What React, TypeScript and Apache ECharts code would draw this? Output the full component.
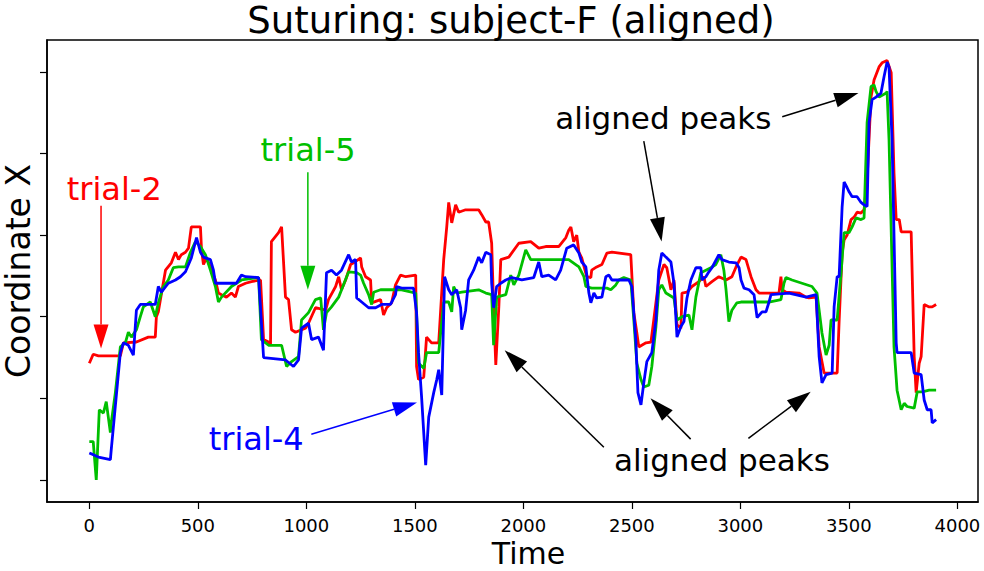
import { useEffect, useRef } from "react";
import * as echarts from "echarts";

// Axis ticks (y ticks carry no labels)
const timeTicks = [0, 500, 1000, 1500, 2000, 2500, 3000, 3500, 4000];
const coordTicks = [0, 1, 2, 3, 4, 5];

// [time, coordinate] samples per trial
const trial2 = [
  [0, 1.43], [18, 1.54], [42, 1.52], [143, 1.52], [157, 1.68], [217, 1.69], [272, 1.75], [304, 1.75], [309, 2.0], [318, 2.06],
  [351, 2.57], [378, 2.66], [397, 2.79], [411, 2.7], [424, 2.76], [443, 2.79], [457, 2.84], [470, 3.1], [512, 3.1], [517, 2.82],
  [526, 2.64], [540, 2.72], [558, 2.61], [581, 2.45], [595, 2.29], [609, 2.27], [632, 2.24], [655, 2.29], [673, 2.24], [687, 2.37],
  [720, 2.41], [747, 2.43], [789, 2.45], [803, 1.72], [826, 1.69], [835, 1.65], [839, 2.92], [872, 3.03], [886, 3.1], [904, 2.24],
  [918, 2.21], [932, 1.84], [950, 1.81], [996, 1.86], [1010, 1.92], [1042, 2.11], [1089, 2.08], [1102, 2.21], [1135, 2.37], [1149, 2.49],
  [1162, 2.33], [1181, 2.45], [1204, 2.64], [1218, 2.66], [1250, 2.72], [1255, 2.61], [1273, 2.49], [1296, 2.45], [1301, 2.17], [1342, 2.21],
  [1356, 2.02], [1370, 2.11], [1393, 2.17], [1411, 2.39], [1434, 2.51], [1458, 2.49], [1504, 2.51], [1508, 1.39], [1517, 1.23], [1541, 1.26],
  [1554, 1.75], [1577, 1.68], [1610, 1.68], [1633, 2.7], [1647, 3.1], [1656, 3.4], [1670, 3.15], [1688, 3.37], [1702, 3.28], [1734, 3.31],
  [1794, 3.31], [1808, 3.25], [1827, 3.16], [1840, 3.16], [1854, 2.9], [1863, 2.12], [1873, 1.41], [1887, 2.12], [1896, 2.7], [1933, 2.73],
  [1979, 2.9], [2034, 2.92], [2071, 2.84], [2103, 2.86], [2163, 2.86], [2196, 2.97], [2209, 3.06], [2219, 3.1], [2232, 2.92], [2246, 3.0],
  [2256, 2.79], [2269, 2.72], [2292, 2.49], [2311, 2.48], [2315, 2.57], [2338, 2.61], [2362, 2.64], [2385, 2.78], [2408, 2.79], [2495, 2.76],
  [2509, 2.05], [2523, 1.8], [2532, 1.63], [2565, 1.68], [2588, 1.69], [2601, 1.96], [2624, 2.45], [2648, 2.64], [2661, 2.6], [2680, 2.33],
  [2694, 2.45], [2708, 1.9], [2726, 1.86], [2731, 2.29], [2754, 2.3], [2777, 2.37], [2809, 2.43], [2832, 2.49], [2841, 2.37], [2869, 2.43],
  [2901, 2.49], [2934, 2.45], [2961, 2.49], [2980, 2.61], [3003, 2.73], [3026, 2.7], [3049, 2.49], [3072, 2.33], [3086, 2.29], [3178, 2.29],
  [3187, 2.49], [3192, 2.33], [3210, 2.3], [3270, 2.29], [3303, 2.24], [3316, 2.23], [3349, 2.24], [3363, 1.63], [3386, 1.31], [3446, 1.31],
  [3455, 1.94], [3469, 2.78], [3478, 2.94], [3492, 3.0], [3510, 3.19], [3524, 3.22], [3538, 3.28], [3556, 3.27], [3570, 3.31], [3584, 3.68],
  [3602, 4.69], [3616, 4.9], [3639, 5.06], [3653, 5.11], [3676, 5.14], [3695, 4.99], [3708, 3.76], [3718, 3.19], [3732, 3.19], [3741, 3.04],
  [3787, 3.04], [3801, 1.51], [3810, 1.07], [3824, 1.43], [3833, 1.51], [3847, 2.15], [3870, 2.12], [3884, 2.12], [3902, 2.15],
];

const trial5 = [
  [0, 0.47], [18, 0.47], [32, 0.0], [46, 0.86], [65, 0.82], [78, 0.96], [97, 0.58], [101, 0.7], [120, 1.07], [143, 1.63],
  [166, 1.68], [180, 1.81], [194, 1.75], [217, 1.84], [235, 2.0], [249, 2.12], [281, 2.18], [304, 2.0], [318, 2.17], [341, 2.37],
  [364, 2.45], [387, 2.6], [411, 2.61], [443, 2.61], [466, 2.79], [489, 2.92], [512, 2.86], [535, 2.76], [558, 2.57], [581, 2.37],
  [595, 2.18], [609, 2.24], [655, 2.37], [701, 2.45], [780, 2.48], [793, 1.72], [826, 1.65], [886, 1.65], [909, 1.39], [932, 1.45],
  [964, 1.51], [978, 1.96], [1010, 2.05], [1042, 2.21], [1066, 2.23], [1079, 1.84], [1093, 2.05], [1116, 2.12], [1149, 2.24], [1195, 2.55],
  [1232, 2.54], [1250, 2.51], [1264, 2.41], [1287, 2.27], [1301, 2.15], [1310, 2.3], [1342, 2.33], [1439, 2.33], [1485, 2.3], [1504, 2.29],
  [1517, 1.43], [1541, 1.37], [1554, 1.56], [1610, 1.56], [1633, 2.18], [1656, 2.18], [1670, 2.06], [1679, 2.37], [1693, 2.29], [1716, 2.3],
  [1794, 2.33], [1827, 2.29], [1854, 2.27], [1863, 1.65], [1877, 2.24], [1919, 2.27], [1942, 2.51], [1956, 2.39], [1979, 2.51], [2011, 2.82],
  [2034, 2.7], [2131, 2.7], [2209, 2.7], [2256, 2.61], [2279, 2.49], [2288, 2.37], [2315, 2.35], [2385, 2.35], [2403, 2.33], [2426, 2.39],
  [2440, 2.45], [2463, 2.48], [2495, 2.45], [2509, 1.96], [2523, 1.43], [2542, 1.23], [2555, 1.14], [2578, 1.16], [2592, 1.39], [2611, 1.88],
  [2624, 2.33], [2638, 2.39], [2657, 2.29], [2694, 2.23], [2708, 1.96], [2731, 2.0], [2763, 2.02], [2777, 1.84], [2795, 2.24], [2818, 2.54],
  [2841, 2.57], [2864, 2.6], [2887, 2.64], [2910, 2.76], [2924, 2.57], [2934, 2.33], [2947, 1.94], [2961, 2.08], [2984, 2.17], [3003, 2.18],
  [3132, 2.18], [3187, 2.21], [3201, 2.41], [3210, 2.48], [3238, 2.45], [3284, 2.41], [3330, 2.37], [3353, 2.29], [3376, 1.8], [3395, 1.53],
  [3409, 1.65], [3418, 1.96], [3446, 1.96], [3464, 2.54], [3478, 3.03], [3501, 3.03], [3515, 3.1], [3533, 3.21], [3556, 3.19], [3570, 3.21],
  [3584, 4.38], [3602, 4.82], [3616, 4.84], [3625, 4.76], [3639, 4.69], [3672, 4.74], [3676, 4.76], [3685, 4.17], [3708, 1.63], [3722, 1.1],
  [3741, 0.86], [3755, 0.94], [3768, 0.9], [3801, 0.88], [3815, 1.08], [3838, 1.08], [3870, 1.1], [3902, 1.1],
];

const trial4 = [
  [0, 0.33], [18, 0.31], [42, 0.28], [97, 0.25], [101, 0.37], [143, 1.56], [157, 1.68], [180, 1.65], [203, 1.53], [217, 2.08],
  [235, 2.15], [304, 2.15], [318, 2.37], [332, 2.3], [364, 2.41], [397, 2.45], [420, 2.49], [443, 2.55], [470, 2.72], [494, 2.97],
  [512, 2.79], [526, 2.73], [558, 2.7], [572, 2.57], [581, 2.41], [678, 2.41], [701, 2.51], [720, 2.49], [780, 2.48], [803, 1.5],
  [904, 1.47], [941, 1.39], [964, 1.47], [978, 1.86], [1010, 1.92], [1024, 1.72], [1056, 1.75], [1079, 1.59], [1093, 2.54], [1116, 2.57],
  [1139, 2.51], [1162, 2.57], [1195, 2.76], [1208, 2.67], [1227, 2.7], [1232, 2.23], [1255, 2.18], [1287, 2.11], [1319, 2.11], [1347, 2.15],
  [1388, 2.15], [1411, 2.27], [1416, 2.37], [1439, 2.35], [1494, 2.35], [1508, 2.05], [1517, 1.56], [1531, 1.02], [1550, 0.18], [1564, 0.77],
  [1587, 1.07], [1601, 1.23], [1610, 1.35], [1624, 1.04], [1637, 2.49], [1656, 2.33], [1670, 2.27], [1693, 2.33], [1711, 2.11], [1716, 1.84],
  [1734, 2.08], [1748, 2.45], [1771, 2.57], [1794, 2.73], [1808, 2.66], [1827, 2.79], [1850, 2.76], [1854, 2.41], [1863, 2.11], [1877, 2.37],
  [1896, 2.41], [1919, 2.45], [1947, 2.48], [1993, 2.45], [2048, 2.48], [2071, 2.67], [2085, 2.49], [2117, 2.51], [2149, 2.45], [2172, 2.57],
  [2200, 2.84], [2232, 2.88], [2256, 2.78], [2269, 2.67], [2288, 2.61], [2302, 2.29], [2311, 2.17], [2325, 2.29], [2338, 2.23], [2362, 2.24],
  [2380, 2.49], [2394, 2.51], [2408, 2.45], [2486, 2.45], [2500, 2.37], [2518, 1.72], [2528, 1.07], [2542, 0.92], [2555, 1.19], [2569, 1.45],
  [2592, 1.56], [2611, 1.96], [2624, 2.57], [2638, 2.78], [2657, 2.73], [2680, 2.67], [2694, 2.41], [2708, 1.75], [2726, 1.88], [2740, 1.94],
  [2754, 2.23], [2772, 2.45], [2795, 2.6], [2818, 2.6], [2823, 2.45], [2841, 2.49], [2855, 2.55], [2869, 2.6], [2901, 2.76], [2915, 2.7],
  [2947, 2.67], [2980, 2.66], [2994, 2.6], [3003, 2.45], [3017, 2.35], [3040, 2.33], [3063, 2.27], [3077, 1.99], [3100, 2.06], [3118, 2.06],
  [3132, 2.18], [3141, 2.27], [3224, 2.29], [3303, 2.24], [3349, 2.27], [3363, 1.51], [3376, 1.19], [3395, 1.29], [3423, 1.31], [3432, 2.12],
  [3446, 2.49], [3455, 2.49], [3469, 3.35], [3478, 3.65], [3492, 3.58], [3501, 3.53], [3515, 3.47], [3538, 3.47], [3556, 3.4], [3570, 3.37],
  [3584, 3.35], [3593, 4.38], [3607, 4.66], [3625, 4.69], [3648, 4.74], [3662, 4.94], [3676, 5.12], [3685, 5.06], [3699, 4.17], [3718, 1.68],
  [3722, 1.56], [3787, 1.56], [3801, 1.31], [3833, 1.29], [3847, 0.98], [3861, 0.86], [3879, 0.86], [3884, 0.7], [3902, 0.74],
];

const RED = "#ff0000";
const GREEN = "#00bf00";
const BLUE = "#0000ff";
const FONT = "DejaVu Sans";

type Pt = [number, number];
type Note = { text: string; color: string; size: number; at: Pt; arrows: [Pt, Pt][] };

// Annotations in data coordinates: label centre and arrows (tail -> head)
const notes: Note[] = [
  { text: "trial-2", color: RED, size: 32, at: [115, 3.57], arrows: [[[54, 3.36], [54, 1.61]]] },
  { text: "trial-5", color: GREEN, size: 32, at: [1008, 4.04], arrows: [[[1007, 3.77], [1007, 2.33]]] },
  { text: "trial-4", color: BLUE, size: 32, at: [769, 0.5], arrows: [[[1023, 0.56], [1510, 0.95]]] },
  {
    text: "aligned peaks", color: "#000", size: 31, at: [2645, 4.44],
    arrows: [[[3193, 4.45], [3544, 4.74]], [[2555, 4.15], [2637, 2.92]]],
  },
  {
    text: "aligned peaks", color: "#000", size: 31, at: [2915, 0.24],
    arrows: [[[2371, 0.4], [1914, 1.59]], [[2771, 0.5], [2586, 1.0]], [[3037, 0.51], [3324, 1.08]]],
  },
];

function buildAnnotations(chart: echarts.ECharts) {
  const toPx = (p: Pt) => chart.convertToPixel({ gridIndex: 0 }, p) as number[];
  const els: any[] = [];
  const headLen = 24;
  const headHalf = 7.5;
  notes.forEach((n) => {
    const c = toPx(n.at);
    els.push({
      type: "text",
      x: c[0],
      y: c[1],
      z: 10,
      style: {
        text: n.text,
        fill: n.color,
        fontSize: n.size,
        fontFamily: FONT,
        align: "center",
        verticalAlign: "middle",
      },
    });
    n.arrows.forEach(([from, to]) => {
      const a = toPx(from);
      const b = toPx(to);
      const dx = b[0] - a[0];
      const dy = b[1] - a[1];
      const len = Math.hypot(dx, dy);
      const ux = dx / len;
      const uy = dy / len;
      const bx = b[0] - ux * headLen;
      const by = b[1] - uy * headLen;
      els.push({
        type: "line",
        z: 10,
        shape: { x1: a[0], y1: a[1], x2: bx, y2: by },
        style: { stroke: n.color, lineWidth: 1.5 },
      });
      els.push({
        type: "polygon",
        z: 10,
        shape: {
          points: [
            [b[0], b[1]],
            [bx - uy * headHalf, by + ux * headHalf],
            [bx + uy * headHalf, by - ux * headHalf],
          ],
        },
        style: { fill: n.color },
      });
    });
  });

  // Axis titles, placed against the plot frame
  const rect = (chart as any).getModel().getComponent("grid", 0).coordinateSystem.getRect();
  els.push({
    type: "text",
    x: rect.x + rect.width / 2 + 16,
    y: 553,
    style: {
      text: "Time",
      fill: "#000",
      fontSize: 30,
      fontFamily: FONT,
      align: "center",
      verticalAlign: "middle",
    },
  });
  els.push({
    type: "text",
    x: 18,
    y: rect.y + rect.height / 2,
    rotation: Math.PI / 2,
    style: {
      text: "Coordinate X",
      fill: "#000",
      fontSize: 33,
      fontFamily: FONT,
      align: "center",
      verticalAlign: "middle",
    },
  });
  return els;
}

export default function App() {
  const ref = useRef<HTMLDivElement>(null);

  useEffect(() => {
    if (!ref.current) return;
    const chart = echarts.init(ref.current, null, { renderer: "svg" });
    const lineSeries = (name: string, data: number[][], color: string) => ({
      name,
      type: "line",
      data,
      showSymbol: false,
      symbol: "none",
      lineStyle: { color, width: 2.8 },
      itemStyle: { color },
    });
    chart.setOption({
      animation: false,
      backgroundColor: "#fff",
      textStyle: { fontFamily: FONT },
      title: {
        text: "Suturing: subject-F (aligned)",
        left: 511,
        textAlign: "center",
        top: 2,
        padding: 0,
        textStyle: { fontSize: 37, lineHeight: 36, fontWeight: "normal", color: "#000", fontFamily: FONT },
      },
      grid: {
        left: 47,
        right: 6,
        top: 40,
        bottom: 69,
        outerBoundsMode: "none",
        containLabel: false,
        show: true,
        borderColor: "#000",
        borderWidth: 1.5,
        backgroundColor: "transparent",
      },
      xAxis: {
        type: "value",
        min: -195,
        max: 4095,
        axisLine: { show: true, onZero: false, lineStyle: { color: "#000", width: 1.5 } },
        axisTick: { show: true, length: 7, customValues: timeTicks, lineStyle: { color: "#000", width: 1.2 } },
        axisLabel: {
          customValues: timeTicks,
          fontSize: 18,
          color: "#000",
          margin: 14,
          fontFamily: FONT,
          formatter: (v: number) => String(v),
        },
        splitLine: { show: false },
      },
      yAxis: {
        type: "value",
        min: -0.27,
        max: 5.39,
        axisLine: { show: true, onZero: false, lineStyle: { color: "#000", width: 1.5 } },
        axisTick: { show: true, length: 7, customValues: coordTicks, lineStyle: { color: "#000", width: 1.2 } },
        axisLabel: { show: false },
        splitLine: { show: false },
      },
      series: [
        lineSeries("trial-2", trial2, RED),
        lineSeries("trial-5", trial5, GREEN),
        lineSeries("trial-4", trial4, BLUE),
      ],
    });
    chart.setOption({ graphic: buildAnnotations(chart) });
    return () => chart.dispose();
  }, []);

  return (
    <div
      ref={ref}
      style={{ position: "fixed", left: 0, top: 0, width: 984, height: 571, background: "#fff" }}
    />
  );
}
